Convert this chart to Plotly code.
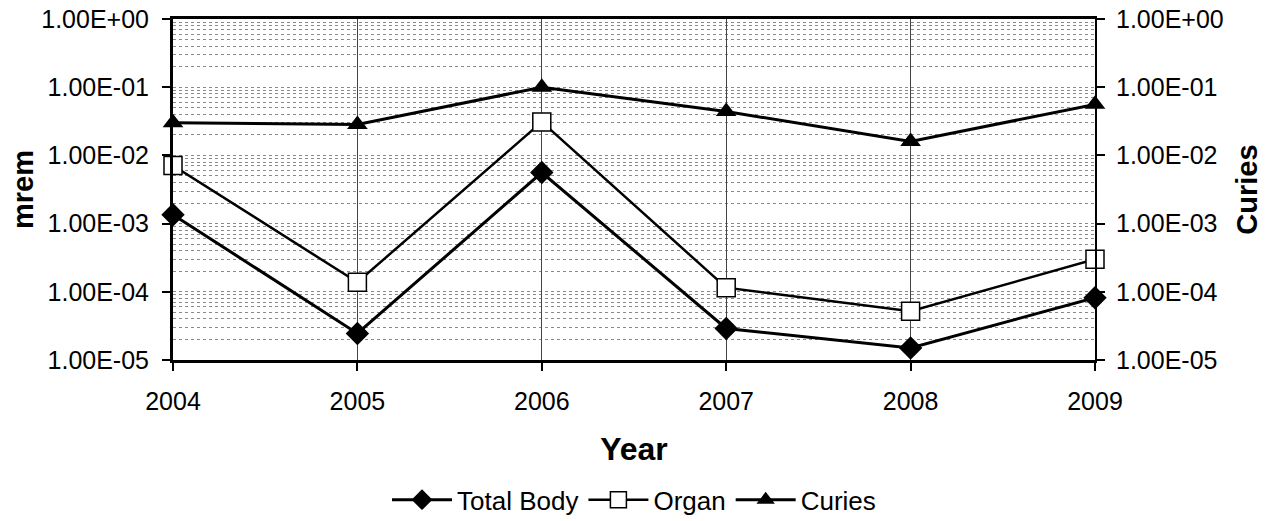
import plotly.graph_objects as go

years = [2004, 2005, 2006, 2007, 2008, 2009]
total_body = [1.35e-3, 2.45e-5, 5.6e-3, 2.9e-5, 1.5e-5, 8.2e-5]
organ = [7.1e-3, 1.38e-4, 3.1e-2, 1.15e-4, 5.2e-5, 3.0e-4]
curies = [3.0e-2, 2.85e-2, 1.0e-1, 4.4e-2, 1.6e-2, 5.6e-2]

tick_vals = [1e-5, 1e-4, 1e-3, 1e-2, 1e-1, 1e0]
tick_text = ["1.00E-05", "1.00E-04", "1.00E-03", "1.00E-02", "1.00E-01", "1.00E+00"]

font = "Liberation Sans, Arial, sans-serif"

fig = go.Figure()
fig.add_trace(go.Scatter(x=years, y=total_body, name="Total Body", mode="lines+markers",
                         line=dict(color="black", width=3),
                         marker=dict(symbol="diamond", size=18, color="black"),
                         cliponaxis=False))
fig.add_trace(go.Scatter(x=years, y=organ, name="Organ", mode="lines+markers",
                         line=dict(color="black", width=2.5),
                         marker=dict(symbol="square", size=18, color="white",
                                     line=dict(color="black", width=1.5)),
                         cliponaxis=False))
fig.add_trace(go.Scatter(x=years, y=curies, name="Curies", mode="lines+markers",
                         yaxis="y2",
                         line=dict(color="black", width=3),
                         marker=dict(symbol="triangle-up", size=18, color="black"),
                         cliponaxis=False))

yaxis_common = dict(
    type="log", range=[-5, 0], tickvals=tick_vals, ticktext=tick_text,
    ticks="outside", ticklen=8, tickwidth=2, tickcolor="black",
    tickfont=dict(family=font, size=25, color="black"),
    zeroline=False, automargin=False, ticklabeloverflow="allow",
)

fig.update_layout(
    width=1266, height=521,
    plot_bgcolor="white", paper_bgcolor="white",
    margin=dict(l=173, r=171, t=19, b=161, autoexpand=False),
    font=dict(family=font, color="black"),
    xaxis=dict(
        range=[2004, 2009], tickvals=years, ticks="outside", ticklen=8, tickwidth=2,
        tickcolor="black", showline=True, linecolor="black", linewidth=3, mirror=True,
        showgrid=True, gridcolor="#444444", gridwidth=1, automargin=False,
        ticklabelstandoff=9,
        tickfont=dict(family=font, size=25, color="black"),
        title=dict(text="<b>Year</b>", font=dict(family=font, size=32), standoff=24),
    ),
    yaxis=dict(
        **yaxis_common,
        showline=True, linecolor="black", linewidth=3,
        showgrid=False, ticklabelstandoff=8,
        minor=dict(showgrid=True, dtick="D1", gridcolor="#8a8a8a", griddash="dot", gridwidth=1),
        title=dict(text="<b>mrem</b>", font=dict(family=font, size=29), standoff=0),
    ),
    yaxis2=dict(
        **yaxis_common,
        overlaying="y", side="right",
        showline=True, linecolor="black", linewidth=2,
        showgrid=False, ticklabelstandoff=6,
        title=dict(text="<b>Curies</b>", font=dict(family=font, size=29), standoff=14),
    ),
    legend=dict(orientation="h", x=0.5, xanchor="center", y=-0.41, yanchor="middle",
                font=dict(family=font, size=26), itemwidth=60),
)

# drop the browser's default body margin so the figure sits at the page corner
fig.write_html("out.html", config={"displayModeBar": False},
               post_script="document.body.style.margin='0';")
